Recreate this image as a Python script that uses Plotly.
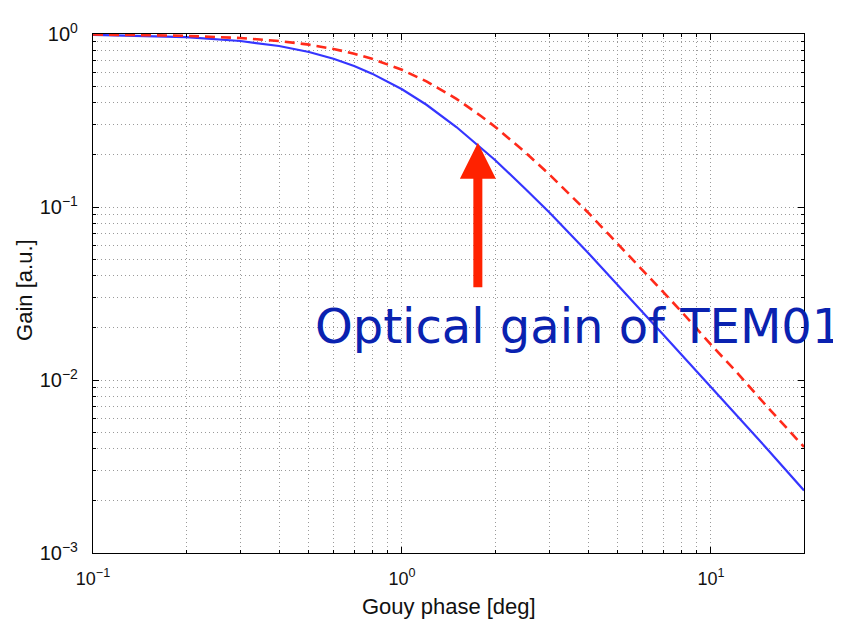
import math
import plotly.graph_objects as go

# Gouy phase [deg]
gouy_phase = [0.1, 0.15, 0.2, 0.3, 0.4, 0.5, 0.6, 0.7, 0.8, 1.0, 1.2, 1.5, 1.8, 2.0,
              2.5, 3.0, 4.0, 5.0, 6.0, 7.0, 8.0, 10.0, 12.0, 15.0, 20.0]
# Blue solid curve (gain)
gain_blue = [0.989, 0.976, 0.958, 0.911, 0.852, 0.787, 0.719, 0.653, 0.590, 0.479,
             0.390, 0.290, 0.221, 0.187, 0.128, 0.093, 0.0544, 0.0350, 0.0247,
             0.0183, 0.0141, 0.0091, 0.0064, 0.0041, 0.0023]
# Red dashed curve (gain)
gain_red = [0.994, 0.986, 0.976, 0.948, 0.911, 0.868, 0.820, 0.770, 0.719, 0.621,
            0.532, 0.422, 0.336, 0.291, 0.208, 0.154, 0.093, 0.0610, 0.0434,
            0.0323, 0.0250, 0.0160, 0.0113, 0.0072, 0.0041]

x_tick_vals = [0.1, 1, 10]
x_tick_text = ["10<sup>−1</sup>", "10<sup>0</sup>", "10<sup>1</sup>"]
y_tick_vals = [0.001, 0.01, 0.1, 1]
y_tick_text = ["10<sup>−3</sup>", "10<sup>−2</sup>", "10<sup>−1</sup>", "10<sup>0</sup>"]

arrow_target = (1.76, 0.235)
label_text = "Optical gain of TEM01"

x_minor = [m * 10 ** e for e in (-1, 0, 1) for m in range(2, 10) if m * 10 ** e <= 20]
y_minor = [m * 10 ** e for e in (-3, -2, -1) for m in range(2, 10)]

fig = go.Figure()
fig.add_trace(go.Scatter(x=gouy_phase, y=gain_blue, mode="lines",
                         line=dict(color="#3535ff", width=2.2), showlegend=False))
fig.add_trace(go.Scatter(x=gouy_phase, y=gain_red, mode="lines",
                         line=dict(color="#ff2a1a", width=2.6, dash="10px,6px"),
                         showlegend=False))

grid_col = "#9a9a9a"
grid_dash = "1px,3px"
common = dict(
    type="log", showline=True, linecolor="black", linewidth=1.3, mirror="ticks",
    ticks="inside", ticklen=6, tickcolor="black", showgrid=True, gridcolor=grid_col,
    griddash=grid_dash, gridwidth=1, zeroline=False,
)
minor_common = dict(ticks="inside", ticklen=3, tickcolor="black", showgrid=True,
                    gridcolor=grid_col, griddash=grid_dash, gridwidth=1)

fig.update_xaxes(range=[-1, math.log10(20)], tickmode="array", tickvals=x_tick_vals,
                 ticktext=x_tick_text, ticklabelstandoff=9,
                 tickfont=dict(family="Liberation Sans, Arial, sans-serif", size=18,
                               color="#111"),
                 minor=dict(tickmode="array", tickvals=x_minor, **minor_common),
                 **common)
fig.update_yaxes(range=[-3, 0], tickmode="array", tickvals=y_tick_vals,
                 ticktext=y_tick_text, ticklabelstandoff=10,
                 tickfont=dict(family="Liberation Sans, Arial, sans-serif", size=20,
                               color="#111"),
                 minor=dict(tickmode="array", tickvals=y_minor, **minor_common),
                 **common)

fig.add_annotation(x=math.log10(arrow_target[0]), y=math.log10(arrow_target[1]),
                   xref="x", yref="y", text="", showarrow=True, ax=0, ay=146,
                   arrowhead=2, arrowsize=0.8, arrowwidth=9, arrowcolor="#ff2200")
fig.add_annotation(x=0.309, y=0.438, xref="paper", yref="paper", text=label_text,
                   showarrow=False, xanchor="left", yanchor="middle",
                   font=dict(family="DejaVu Sans, Verdana, sans-serif", size=48,
                             color="#0a22b0"))
fig.add_annotation(x=0.5, y=-0.103, xref="paper", yref="paper", text="Gouy phase [deg]",
                   showarrow=False, xanchor="center", yanchor="middle",
                   font=dict(family="Liberation Sans, Arial, sans-serif", size=22,
                             color="#111"))
fig.add_annotation(x=-0.0956, y=0.507, xref="paper", yref="paper", text="Gain [a.u.]",
                   showarrow=False, xanchor="center", yanchor="middle", textangle=-90,
                   font=dict(family="Liberation Sans, Arial, sans-serif", size=22,
                             color="#111"))

fig.update_layout(width=833, height=612, margin=dict(l=85, r=37, t=20, b=67),
                  plot_bgcolor="white", paper_bgcolor="white")
fig.write_html("out.html")
